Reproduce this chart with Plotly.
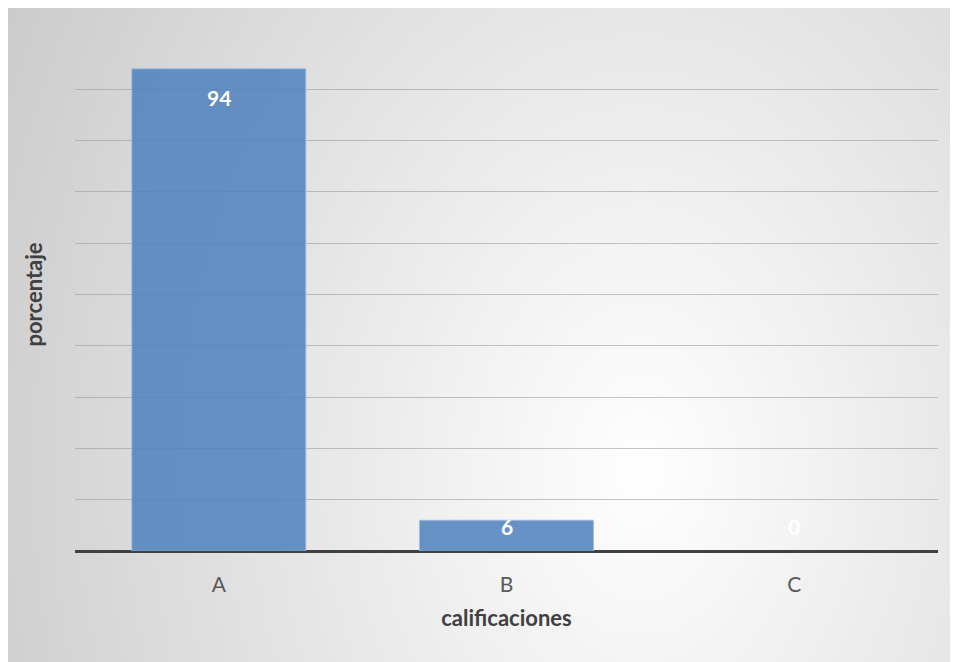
import base64, struct, zlib
import numpy as np
import plotly.graph_objects as go

categories = ["A", "B", "C"]
values = [94, 6, 0]
x_title = "calificaciones"
y_title = "porcentaje"

OFF = 8  # page body margin
W, H = 958 - OFF, 662 - OFF
# box region of the chart background (figure pixels)
BX0, BY0, BX1, BY1 = 0, 0, 955 - OFF, 660 - OFF
PL, PR, PT, PB = 75 - OFF, 938 - OFF, 38 - OFF, 551 - OFF


def gradient_png(w, h):
    ys, xs = np.mgrid[0:h, 0:w].astype(float)
    px = BX0 + xs * (BX1 - BX0) / (w - 1) + OFF
    py = BY0 + ys * (BY1 - BY0) / (h - 1) + OFF
    cx, cy = 650.0, 400.0
    d = np.sqrt(((px - cx) * 0.078) ** 2 + ((py - cy) * 0.066) ** 2)
    g = np.clip(255 - d, 190, 255).astype(np.uint8)
    raw = b"".join(b"\x00" + g[r].tobytes() for r in range(h))

    def chunk(t, data):
        c = struct.pack(">I", len(data)) + t + data
        return c + struct.pack(">I", zlib.crc32(t + data) & 0xFFFFFFFF)

    png = b"\x89PNG\r\n\x1a\n"
    png += chunk(b"IHDR", struct.pack(">IIBBBBB", w, h, 8, 0, 0, 0, 0))
    png += chunk(b"IDAT", zlib.compress(raw, 9))
    png += chunk(b"IEND", b"")
    return "data:image/png;base64," + base64.b64encode(png).decode()


bg = gradient_png(316, 218)

fig = go.Figure()
fig.add_trace(go.Bar(
    x=categories, y=values,
    marker=dict(color="rgba(79,129,189,0.86)",
                line=dict(color="rgba(160,190,225,0.9)",
                          width=[1 if v > 0 else 0 for v in values])),
    hoverinfo="x+y",
))

# data labels (inside end)
shifts = {0: -29, 1: -6}
for i, (c, v) in enumerate(zip(categories, values)):
    ys = shifts.get(i, 25) if v > 0 else 25
    fig.add_annotation(x=c, y=v, text=f"<b>{v}</b>", showarrow=False,
                       yshift=ys, font=dict(family="Lato", size=21, color="white"))

fig.add_shape(type="rect", xref="paper", yref="paper",
              x0=(BX0 - PL) / (PR - PL), x1=(BX1 - PL) / (PR - PL),
              y0=(PB - BY1) / (PB - PT), y1=(PB - BY0) / (PB - PT),
              line=dict(color="#c2c2c2", width=1.5), layer="below")

fx = lambda p: p / W
fy = lambda p: 1 - p / H

fig.update_layout(
    width=W, height=H,
    margin=dict(l=0, r=0, t=0, b=0),
    paper_bgcolor="white",
    plot_bgcolor="rgba(0,0,0,0)",
    showlegend=False,
    bargap=0.395,
    font=dict(family="Lato", color="#595959"),
    xaxis=dict(
        domain=[fx(PL), fx(PR)],
        showgrid=False, showline=False, zeroline=False,
        ticks="", tickfont=dict(size=21, color="#595959"),
        ticklabelstandoff=19,
        title=dict(text=f"<b>{x_title}</b>", standoff=15,
                   font=dict(size=22, color="#404040")),
    ),
    yaxis=dict(
        domain=[fy(PB), fy(PT)],
        range=[0, 100], dtick=10,
        showticklabels=False, ticks="",
        showgrid=True, gridcolor="rgba(150,150,150,0.55)", gridwidth=1.3,
        zeroline=True, zerolinecolor="#404040", zerolinewidth=3,
        title=dict(text=f"<b>{y_title}</b>", standoff=25,
                   font=dict(size=22, color="#404040")),
    ),
    images=[dict(source=bg, xref="paper", yref="paper",
                 x=(BX0 - PL) / (PR - PL), y=(PB - BY0) / (PB - PT),
                 sizex=(BX1 - BX0) / (PR - PL), sizey=(BY1 - BY0) / (PB - PT),
                 xanchor="left", yanchor="top", sizing="stretch", layer="below")],
)

fig.write_html("out.html")
